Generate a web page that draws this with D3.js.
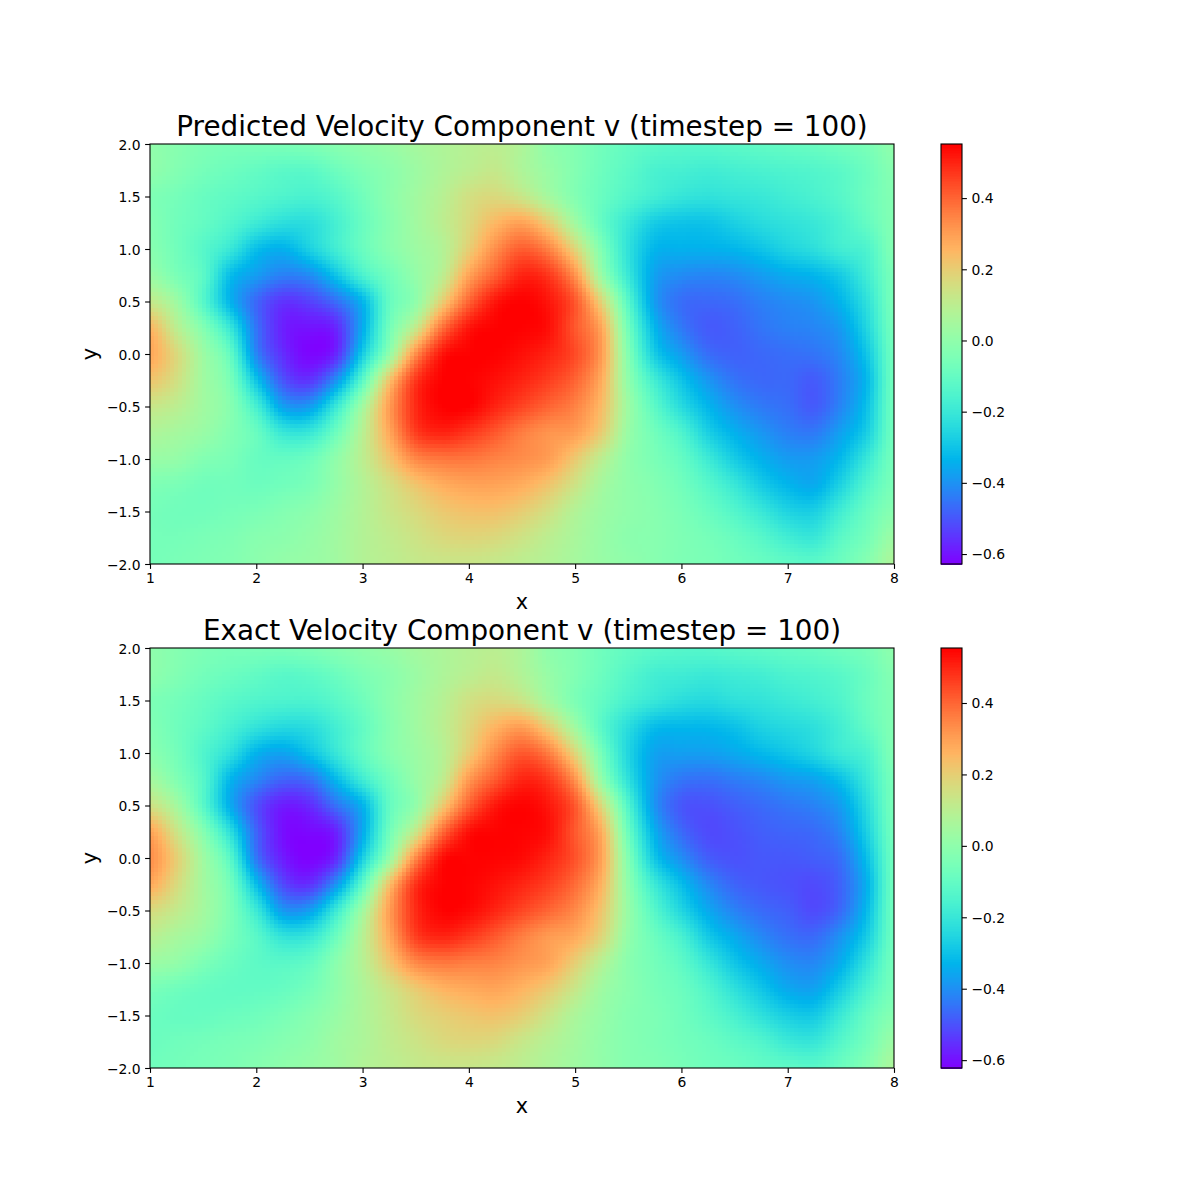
<!DOCTYPE html>
<html><head><meta charset="utf-8">
<script src="https://cdn.jsdelivr.net/npm/d3@7"></script>
<style>html,body{margin:0;padding:0;background:#fff}svg{display:block}text{font-family:"DejaVu Sans",sans-serif;fill:#000}</style>
</head><body><svg id="c" width="1200" height="1200"></svg>
<script>
const xValues=[1,1.25,1.5,1.75,2,2.25,2.5,2.75,3,3.25,3.5,3.75,4,4.25,4.5,4.75,5,5.25,5.5,5.75,6,6.25,6.5,6.75,7,7.25,7.5,7.75,8];
const yValues=[2,1.75,1.5,1.25,1,0.75,0.5,0.25,0,-0.25,-0.5,-0.75,-1,-1.25,-1.5,-1.75,-2];
const xTicks=[1,2,3,4,5,6,7,8];
const yTicks=[-2,-1.5,-1,-0.5,0,0.5,1,1.5,2];
const barTicks=[-0.6,-0.4,-0.2,0,0.2,0.4];
const predictedRange=[-0.628,0.552];
const exactRange=[-0.622,0.554];
const predictedRows=[
[0,-.02,-.04,-.05,-.05,-.05,-.04,-.02,0,.02,.05,.07,.09,.1,.07,0,-.03,-.07,-.1,-.12,-.13,-.13,-.12,-.11,-.1,-.09,-.07,-.05,0],
[0,-.03,-.06,-.08,-.1,-.12,-.12,-.08,-.04,-.01,.03,.07,.1,.12,.07,.02,-.03,-.08,-.12,-.16,-.17,-.18,-.17,-.16,-.15,-.14,-.12,-.08,-.02],
[-.04,-.06,-.09,-.11,-.13,-.15,-.16,-.13,-.07,-.01,.04,.09,.15,.17,.13,.05,-.03,-.09,-.14,-.18,-.21,-.22,-.21,-.2,-.18,-.16,-.13,-.08,-.03],
[-.03,-.07,-.1,-.14,-.19,-.23,-.23,-.17,-.09,-.02,.04,.1,.17,.25,.29,.2,.04,-.1,-.2,-.28,-.3,-.3,-.27,-.24,-.22,-.2,-.16,-.1,-.03],
[-.02,-.07,-.13,-.2,-.31,-.34,-.27,-.18,-.09,-.02,.03,.08,.2,.33,.41,.35,.18,-.04,-.22,-.33,-.34,-.34,-.33,-.3,-.26,-.23,-.18,-.15,-.03],
[.02,-.05,-.12,-.31,-.38,-.43,-.41,-.3,-.16,-.07,.01,.1,.29,.41,.5,.47,.32,.02,-.2,-.37,-.41,-.42,-.41,-.38,-.35,-.33,-.28,-.18,-.05],
[.12,.03,-.13,-.33,-.47,-.55,-.53,-.46,-.33,-.1,0,.2,.4,.52,.55,.52,.42,.18,-.13,-.38,-.46,-.47,-.46,-.43,-.41,-.39,-.33,-.22,-.05],
[.25,.1,-.03,-.2,-.45,-.58,-.6,-.57,-.35,-.07,.12,.38,.52,.55,.55,.53,.42,.28,-.07,-.33,-.44,-.49,-.48,-.45,-.43,-.42,-.38,-.25,-.06],
[.28,.17,.03,-.1,-.42,-.56,-.62,-.57,-.28,0,.33,.52,.55,.55,.53,.5,.44,.3,-.03,-.28,-.38,-.46,-.48,-.47,-.46,-.45,-.41,-.29,-.07],
[.22,.15,.04,-.05,-.3,-.5,-.55,-.4,-.12,.22,.47,.55,.55,.53,.5,.46,.4,.27,0,-.18,-.3,-.39,-.45,-.47,-.47,-.49,-.43,-.32,-.07],
[.13,.1,.04,-.02,-.17,-.37,-.38,-.2,.04,.3,.49,.55,.55,.5,.45,.4,.35,.24,.03,-.12,-.24,-.33,-.4,-.44,-.46,-.49,-.42,-.3,-.07],
[.07,.05,.02,-.03,-.09,-.2,-.2,-.08,.09,.28,.46,.5,.47,.42,.36,.32,.3,.2,.02,-.07,-.15,-.27,-.34,-.39,-.43,-.44,-.37,-.27,-.07],
[.02,.01,-.03,-.05,-.09,-.1,-.08,0,.1,.22,.34,.37,.37,.35,.33,.3,.21,.1,0,-.05,-.1,-.19,-.28,-.34,-.38,-.38,-.32,-.2,-.06],
[-.04,-.05,-.07,-.07,-.08,-.07,-.05,.01,.08,.15,.22,.27,.29,.29,.27,.22,.14,.05,0,-.03,-.07,-.13,-.2,-.28,-.33,-.35,-.26,-.14,-.05],
[-.06,-.07,-.07,-.06,-.05,-.03,-.01,.03,.08,.13,.17,.21,.23,.23,.2,.15,.08,.03,0,-.02,-.05,-.09,-.14,-.2,-.26,-.27,-.18,-.09,-.02],
[-.06,-.06,-.05,-.04,-.02,-.01,.01,.04,.08,.11,.14,.17,.18,.17,.14,.1,.06,.02,-.01,-.02,-.04,-.06,-.09,-.13,-.18,-.2,-.12,-.06,.03],
[-.06,-.05,-.04,-.03,-.01,.01,.02,.04,.08,.1,.12,.13,.13,.12,.1,.08,.05,.02,0,-.02,-.04,-.05,-.07,-.09,-.11,-.12,-.08,-.02,.07]
];
const exactRows=[
[0,-.02,-.04,-.05,-.05,-.05,-.04,-.02,0,.02,.05,.07,.09,.1,.07,0,-.03,-.07,-.1,-.12,-.13,-.13,-.12,-.11,-.1,-.09,-.07,-.05,0],
[0,-.03,-.06,-.08,-.1,-.12,-.11,-.08,-.04,-.01,.03,.07,.1,.12,.08,.02,-.03,-.08,-.13,-.17,-.18,-.19,-.18,-.17,-.15,-.14,-.12,-.08,-.02],
[-.04,-.06,-.09,-.12,-.14,-.15,-.15,-.12,-.07,-.01,.04,.09,.15,.17,.14,.05,-.04,-.1,-.16,-.2,-.23,-.24,-.22,-.21,-.19,-.17,-.14,-.08,-.03],
[-.03,-.07,-.11,-.16,-.21,-.24,-.23,-.17,-.1,-.02,.04,.1,.18,.26,.3,.2,.04,-.12,-.23,-.31,-.32,-.32,-.3,-.26,-.24,-.22,-.17,-.1,-.03],
[-.01,-.06,-.14,-.22,-.33,-.36,-.3,-.2,-.1,-.02,.03,.09,.21,.34,.42,.36,.18,-.06,-.25,-.36,-.37,-.37,-.35,-.32,-.29,-.25,-.19,-.15,-.03],
[.05,-.03,-.13,-.32,-.41,-.47,-.45,-.32,-.18,-.07,.02,.11,.31,.42,.5,.47,.32,.01,-.22,-.38,-.44,-.45,-.43,-.41,-.38,-.36,-.3,-.19,-.05],
[.15,.05,-.12,-.34,-.5,-.58,-.56,-.45,-.33,-.1,.01,.21,.41,.52,.55,.52,.42,.17,-.14,-.39,-.49,-.5,-.48,-.46,-.44,-.42,-.37,-.23,-.05],
[.29,.14,-.02,-.22,-.47,-.6,-.61,-.57,-.35,-.07,.13,.39,.53,.55,.55,.53,.42,.27,-.08,-.34,-.46,-.51,-.5,-.48,-.47,-.46,-.41,-.26,-.06],
[.33,.2,.04,-.12,-.44,-.58,-.62,-.56,-.27,.01,.34,.53,.55,.55,.54,.5,.43,.29,-.03,-.29,-.4,-.48,-.5,-.49,-.49,-.48,-.45,-.3,-.07],
[.28,.17,.05,-.06,-.31,-.51,-.55,-.39,-.11,.23,.48,.55,.55,.53,.5,.46,.39,.26,0,-.19,-.31,-.41,-.47,-.49,-.5,-.51,-.47,-.33,-.07],
[.17,.12,.05,-.04,-.19,-.38,-.37,-.19,.04,.3,.49,.55,.54,.5,.45,.4,.34,.22,.02,-.13,-.25,-.35,-.42,-.46,-.48,-.51,-.46,-.31,-.07],
[.1,.06,.02,-.05,-.12,-.21,-.2,-.08,.09,.28,.46,.5,.47,.42,.36,.31,.28,.18,.01,-.08,-.16,-.28,-.35,-.41,-.45,-.46,-.39,-.27,-.07],
[.03,.01,-.04,-.08,-.11,-.12,-.1,-.01,.09,.22,.34,.37,.36,.35,.32,.29,.2,.09,-.01,-.06,-.11,-.2,-.29,-.35,-.4,-.41,-.34,-.21,-.06],
[-.05,-.07,-.09,-.1,-.1,-.09,-.06,0,.07,.14,.21,.26,.28,.29,.26,.21,.13,.04,-.01,-.05,-.08,-.14,-.22,-.29,-.35,-.36,-.27,-.15,-.05],
[-.08,-.09,-.09,-.08,-.07,-.05,-.02,.02,.07,.12,.17,.2,.22,.23,.2,.14,.07,.02,-.02,-.04,-.07,-.11,-.16,-.22,-.27,-.28,-.19,-.09,-.02],
[-.08,-.07,-.06,-.05,-.04,-.02,0,.04,.07,.11,.14,.17,.18,.17,.13,.09,.05,.01,-.02,-.04,-.06,-.08,-.11,-.14,-.19,-.2,-.13,-.06,.03],
[-.07,-.06,-.05,-.04,-.02,0,.02,.04,.08,.1,.12,.13,.13,.12,.1,.07,.04,.01,-.02,-.03,-.05,-.07,-.08,-.1,-.11,-.12,-.08,-.02,.07]
];

const rainbow=t=>{t=Math.max(0,Math.min(1,t));
  return d3.rgb(Math.min(255,255*Math.abs(2*t-.5)),255*Math.sin(Math.PI*t),255*Math.cos(Math.PI*t/2)).formatRgb();};
const cr=(a,b,c,d,t)=>.5*(2*b+(c-a)*t+(2*a-5*b+4*c-d)*t*t+(3*b-a-3*c+d)*t*t*t);
const toCol=d3.scaleLinear().domain(d3.extent(xValues)).range([0,xValues.length-1]);
const toRow=d3.scaleLinear().domain([yValues[0],yValues[yValues.length-1]]).range([0,yValues.length-1]);
function shade(rows,x,y){
  const u=toCol(x),v=toRow(y);
  const i=Math.min(Math.floor(u),xValues.length-2),j=Math.min(Math.floor(v),yValues.length-2);
  const ci=k=>Math.max(0,Math.min(xValues.length-1,k)),cj=k=>Math.max(0,Math.min(yValues.length-1,k));
  const rowAt=r=>cr(rows[r][ci(i-1)],rows[r][ci(i)],rows[r][ci(i+1)],rows[r][ci(i+2)],u-i);
  return cr(rowAt(cj(j-1)),rowAt(cj(j)),rowAt(cj(j+1)),rowAt(cj(j+2)),v-j);
}
const svg=d3.select("#c");
const fmt=d=>d3.format(".1f")(d).replace("-","\u2212");
function panel(top,title,rows,range){
  const L=150,R=894,H=420,x=d3.scaleLinear().domain([1,8]).range([L,R]),y=d3.scaleLinear().domain([-2,2]).range([top+H,top]);
  const color=d3.scaleSequential(rainbow).domain(range);
  const g=svg.append("g");
  const cw=4,ch=4,cells=[];
  for(let py=top;py<top+H;py+=ch)for(let px=L;px<R;px+=cw)cells.push([px,py]);
  g.append("g").attr("shape-rendering","crispEdges").selectAll("rect").data(cells).join("rect")
    .attr("x",d=>d[0]).attr("y",d=>d[1]).attr("width",cw).attr("height",ch)
    .attr("fill",d=>color(shade(rows,x.invert(d[0]+cw/2),y.invert(d[1]+ch/2))));
  const style=dy=>a=>{a.selectAll("text").style("font-size","13.9px").style("font-family",'"DejaVu Sans"');if(dy)a.selectAll("text").attr("dy",dy);a.selectAll("line").attr("stroke-width",1.1);a.select(".domain").remove();};
  g.append("g").attr("transform",`translate(0,${top+H})`).call(d3.axisBottom(x).tickValues(xTicks).tickFormat(d3.format("d")).tickSize(4.9).tickPadding(4.5)).call(style(null));
  g.append("g").attr("transform",`translate(${L},0)`).call(d3.axisLeft(y).tickValues(yTicks).tickFormat(fmt).tickSize(4.9).tickPadding(4.5)).call(style("0.38em"));
  g.append("rect").attr("x",L).attr("y",top).attr("width",R-L).attr("height",H).attr("fill","none").attr("stroke","#000").attr("stroke-width",1.1);
  g.append("text").attr("x",522).attr("y",top-8).attr("text-anchor","middle").style("font-size","27.8px").text(title);
  g.append("text").attr("x",522).attr("y",top+H+45).attr("text-anchor","middle").style("font-size","20.8px").text("x");
  g.append("text").attr("transform",`translate(97,${top+H/2}) rotate(-90)`).attr("text-anchor","middle").style("font-size","20.8px").text("y");
  const bL=941,bR=962,b=d3.scaleLinear().domain(range).range([top+H,top]);
  const levels=d3.range(256).map(i=>range[0]+(range[1]-range[0])*(i+.5)/256);
  g.append("g").attr("shape-rendering","crispEdges").selectAll("rect").data(levels).join("rect")
    .attr("x",bL).attr("width",bR-bL).attr("y",d=>b(d)-H/512-.5).attr("height",H/256+1).attr("fill",d=>color(d));
  g.append("g").attr("transform",`translate(${bR},0)`).call(d3.axisRight(b).tickValues(barTicks).tickFormat(fmt).tickSize(4.9).tickPadding(4.5)).call(style("0.34em"));
  g.append("rect").attr("x",bL).attr("y",top).attr("width",bR-bL).attr("height",H).attr("fill","none").attr("stroke","#000").attr("stroke-width",1.1);
}
panel(144,"Predicted Velocity Component v (timestep = 100)",predictedRows,predictedRange);
panel(648,"Exact Velocity Component v (timestep = 100)",exactRows,exactRange);
</script></body></html>
